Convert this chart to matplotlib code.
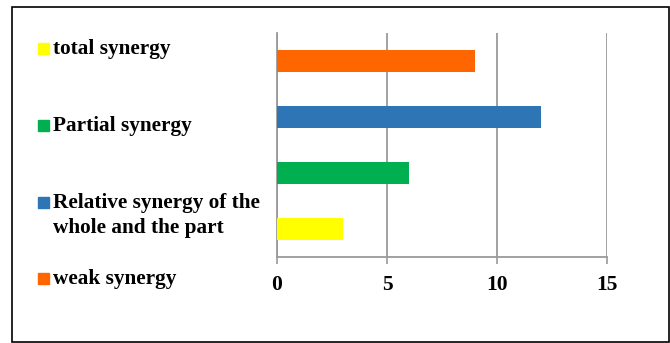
import matplotlib
matplotlib.use("Agg")
import matplotlib.pyplot as plt
from matplotlib.patches import Rectangle

# Données (de bas en haut dans le graphique)
categories = ["total synergy", "Partial synergy",
              "Relative synergy of the\nwhole and the part", "weak synergy"]
valeurs = [3, 6, 12, 9]
couleurs = ["#FFFF00", "#00B050", "#2E75B6", "#FF6600"]
ticks_x = [0, 5, 10, 15]

plt.rcParams["font.family"] = ["Liberation Serif", "DejaVu Serif"]
plt.rcParams["font.weight"] = "bold"

fig = plt.figure(figsize=(6.7, 3.43), dpi=100)
ax = fig.add_axes([277 / 670, 1 - 257 / 343, 330 / 670, 224 / 343])

gris = "#9A9A9A"
ax.barh(range(len(valeurs)), valeurs, height=0.41, color=couleurs, zorder=3)
ax.set_xlim(0, 15)
ax.set_ylim(-0.5, len(valeurs) - 0.5)
ax.set_xticks(ticks_x)
ax.set_xticklabels([str(t) for t in ticks_x], fontsize=15.5, fontweight="bold")
ax.set_yticks([])
ax.tick_params(axis="x", length=5, width=1.2, color=gris, pad=8)
ax.grid(True, axis="x", color=gris, lw=1.3, zorder=0)
for s in ["top", "right"]:
    ax.spines[s].set_visible(False)
for s in ["left", "bottom"]:
    ax.spines[s].set_color(gris)
    ax.spines[s].set_linewidth(1.3)

# Légende manuelle (haut -> bas : total, partial, relative, weak)
legende_y = [48, 125, 202, 278]
ecart_ligne = 25  # px entre deux lignes d'une même entrée
for i, (lab, col) in enumerate(zip(categories, couleurs)):
    yp = legende_y[i]
    fig.patches.append(Rectangle((38 / 670, 1 - (yp + 5.5) / 343), 11 / 670, 11 / 343,
                                 transform=fig.transFigure, color=col, figure=fig))
    for k, ligne in enumerate(lab.split("\n")):
        fig.text(53 / 670, 1 - (yp + 6 + k * ecart_ligne) / 343, ligne,
                 fontsize=15.3, fontweight="bold", va="baseline", ha="left")

# Cadre extérieur
fig.patches.append(Rectangle((12 / 670, 1 / 343), 657 / 670, 335 / 343,
                             transform=fig.transFigure, fill=False,
                             edgecolor="black", lw=1.2, figure=fig))

fig.savefig("out.png", dpi=100)
